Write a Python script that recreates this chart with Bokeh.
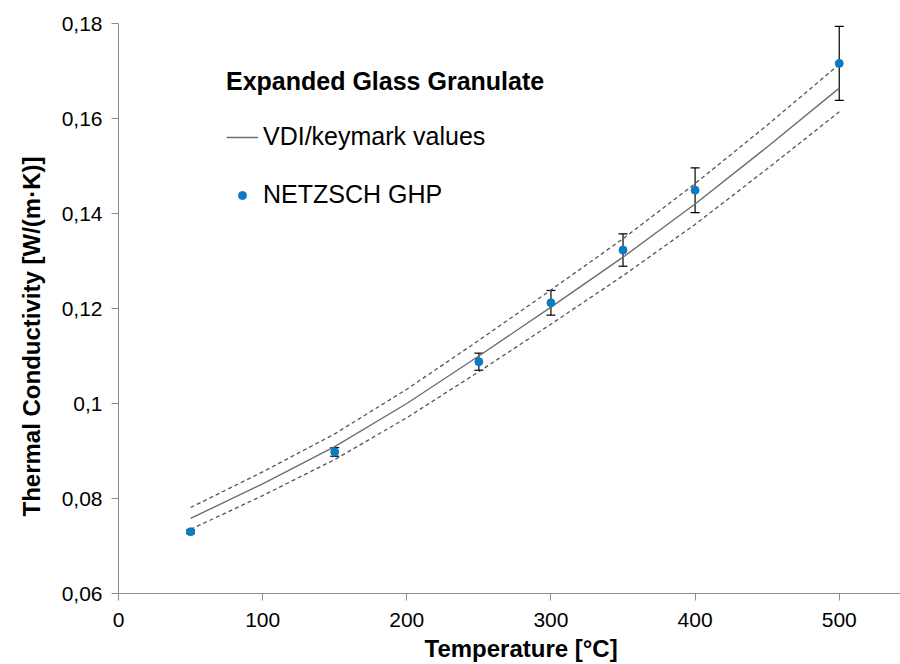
from bokeh.plotting import figure
from bokeh.models import (ColumnDataSource, Whisker, TeeHead, FixedTicker,
                          CustomJSTickFormatter, Legend, LegendItem, Title, Range1d)
from bokeh.embed import file_html
from bokeh.resources import INLINE

# ---- data ----
temps_curve = [50, 100, 150, 200, 250, 300, 350, 400, 450, 500]
vdi_values = [0.0758, 0.0831, 0.0909, 0.1000, 0.1100, 0.1203, 0.1308, 0.1420, 0.1540, 0.1664]
vdi_upper = [0.0781, 0.0856, 0.0936, 0.1030, 0.1133, 0.1239, 0.1347, 0.1463, 0.1586, 0.1714]
vdi_lower = [0.0735, 0.0806, 0.0882, 0.0970, 0.1067, 0.1167, 0.1269, 0.1377, 0.1494, 0.1614]

temps_meas = [50, 150, 250, 300, 350, 400, 500]
netzsch_ghp = [0.0730, 0.0898, 0.1088, 0.1212, 0.1323, 0.1449, 0.1716]
netzsch_err = [0.0004, 0.0009, 0.0018, 0.0026, 0.0034, 0.0047, 0.0078]

x_ticks = [0, 100, 200, 300, 400, 500]
y_ticks = [0.06, 0.08, 0.10, 0.12, 0.14, 0.16, 0.18]

FONT = "Liberation Sans"
BLUE = "#0C7BC4"
AXIS_GRAY = "#8C8C8C"

p = figure(width=900, height=664, output_backend="svg", toolbar_location=None,
           x_range=Range1d(0, 542.5), y_range=Range1d(0.06, 0.18),
           min_border_left=118, min_border_right=0, min_border_top=23,
           min_border_bottom=70)
p.outline_line_color = None
p.grid.visible = False
p.background_fill_color = "white"
p.border_fill_color = "white"

curve_src = ColumnDataSource(dict(t=temps_curve, vdi=vdi_values,
                                  up=vdi_upper, lo=vdi_lower))
meas_src = ColumnDataSource(dict(
    t=temps_meas, v=netzsch_ghp,
    upper=[v + e for v, e in zip(netzsch_ghp, netzsch_err)],
    lower=[v - e for v, e in zip(netzsch_ghp, netzsch_err)]))

p.line("t", "up", source=curve_src, line_color="#555555", line_width=1.3,
       line_dash="4 3")
p.line("t", "lo", source=curve_src, line_color="#555555", line_width=1.3,
       line_dash="4 3")
r_vdi = p.line("t", "vdi", source=curve_src, line_color="#6E6E6E", line_width=1.4)

whisk = Whisker(source=meas_src, base="t", upper="upper", lower="lower",
                line_color="black", line_width=1.2, level="underlay",
                upper_head=TeeHead(size=9, line_color="black", line_width=1.2),
                lower_head=TeeHead(size=9, line_color="black", line_width=1.2))
p.add_layout(whisk)

r_pts = p.scatter("t", "v", source=meas_src, size=8, fill_color=BLUE,
                  line_color=BLUE)

# ---- axes ----
for ax in (p.xaxis, p.yaxis):
    ax.axis_line_color = AXIS_GRAY
    ax.major_tick_line_color = AXIS_GRAY
    ax.minor_tick_line_color = None
    ax.major_tick_in = 0
    ax.major_tick_out = 7
    ax.major_label_text_font = FONT
    ax.major_label_text_font_size = "21px"
    ax.major_label_text_color = "black"

p.xaxis.ticker = FixedTicker(ticks=x_ticks)
p.yaxis.ticker = FixedTicker(ticks=y_ticks)
p.xaxis.major_label_standoff = 12
p.yaxis.major_label_standoff = 9
p.yaxis.formatter = CustomJSTickFormatter(
    code="return tick.toFixed(2).replace(/0$/, '').replace('.', ',');")

p.add_layout(Title(text="Temperature [°C]", align="left", offset=306,
                   text_font=FONT, text_font_size="24px", text_color="black",
                   text_font_style="bold", standoff=6), "below")
p.add_layout(Title(text="Thermal Conductivity [W/(m·K)]", align="left",
                   offset=77, text_font=FONT, text_font_size="24px",
                   text_color="black", text_font_style="bold", standoff=28),
             "left")

# ---- legend ----
legend = Legend(items=[LegendItem(label="VDI/keymark values", renderers=[r_vdi]),
                       LegendItem(label="NETZSCH GHP", renderers=[r_pts])],
                location=(108, 384), title="Expanded Glass Granulate",
                title_text_font=FONT, title_text_font_size="25px",
                title_text_font_style="bold", title_text_color="black",
                title_standoff=26,
                label_text_font=FONT, label_text_font_size="25px",
                label_text_color="black",
                glyph_width=32, glyph_height=20, label_standoff=5,
                spacing=29, padding=0, margin=0,
                border_line_color=None, background_fill_alpha=0)
p.add_layout(legend)

open("out.html", "w").write(file_html(p, INLINE))
